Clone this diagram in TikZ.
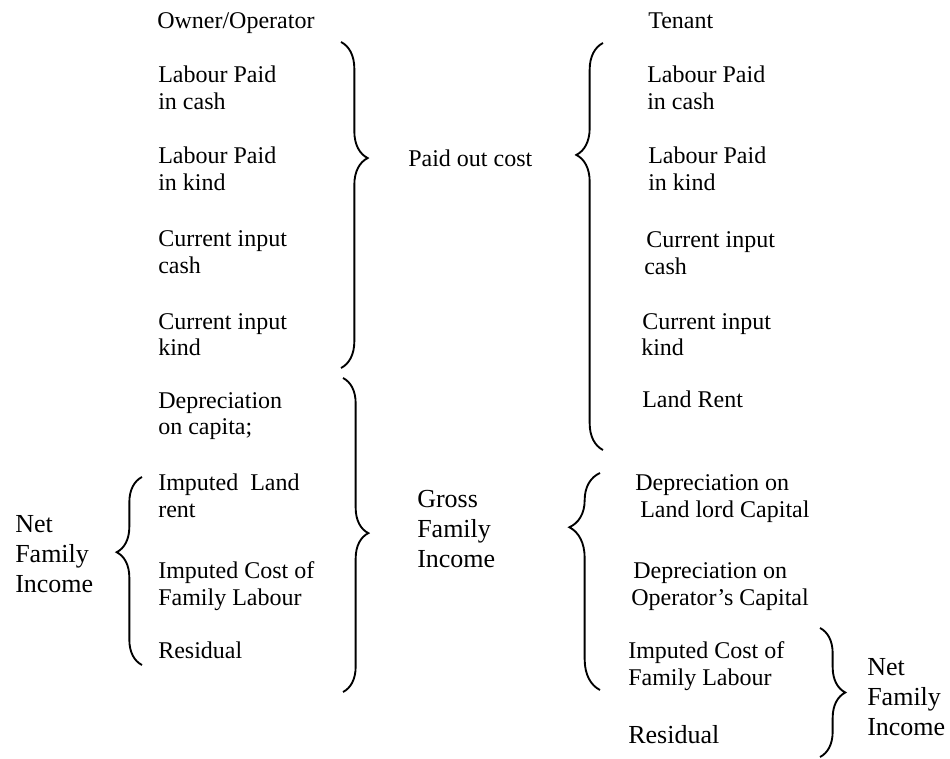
\documentclass[tikz,border=0pt]{standalone}
\usepackage{fontspec}
\setmainfont{Liberation Serif}
\usetikzlibrary{decorations.pathreplacing}
\begin{document}
\begin{tikzpicture}[x=0.75pt,y=-0.75pt,
  txt/.style={anchor=base west,inner sep=0pt,align=left,font=\fontsize{18}{20.25}\selectfont},
  bigtxt/.style={anchor=base west,inner sep=0pt,align=left,font=\fontsize{19.5}{22.5}\selectfont},
  bracket/.style={line width=1.4pt,decorate,decoration={brace,amplitude=#1}},
  bracket/.default=19pt]
\useasboundingbox (0,0) rectangle (950,759);

% owner / operator column (anchors sit on the last line's baseline)
\node[txt] (oo)   at (157,29)  {Owner/Operator};
\node[txt] (o1)   at (158,110) {Labour Paid\\in cash};
\node[txt] (o2)   at (158,191) {Labour Paid\\in kind};
\node[txt] (o3)   at (158,274) {Current input\\cash};
\node[txt] (o4)   at (158,356) {Current input\\kind};
\node[txt] (o5)   at (158,435) {Depreciation\\on capita;};
\node[txt] (o6)   at (158,517) {Imputed\ \ Land\\rent};
\node[txt] (o7)   at (158,605) {Imputed Cost of\\Family Labour};
\node[txt] (o8)   at (158,658) {Residual};
\node[bigtxt] (onet) at (15,592) {Net\\Family\\Income};

% middle labels
\node[txt] (paid)  at (408,167) {Paid out cost};
\node[bigtxt] (gross) at (417,567) {Gross\\Family\\Income};

% tenant column
\node[txt] (tt)   at (648,29)  {Tenant};
\node[txt] (t1)   at (647,110) {Labour Paid\\in cash};
\node[txt] (t2)   at (648,191) {Labour Paid\\in kind};
\node[txt] (t3)   at (644,275) {\hspace*{1.5pt}Current input\\cash};
\node[txt] (t4)   at (641,356) {\hspace*{0.75pt}Current input\\kind};
\node[txt] (t5)   at (642,407) {Land Rent};
\node[txt] (t6)   at (635,517) {Depreciation on\\\hspace*{3.75pt}Land lord Capital};
\node[txt] (t7)   at (631,605) {\hspace*{1.5pt}Depreciation on\\Operator’s Capital};
\node[txt] (t8)   at (628,685) {Imputed Cost of\\Family Labour};
\node[bigtxt] (t9) at (628,743) {Residual};
\node[bigtxt] (tnet) at (867,735) {Net\\Family\\Income};

% brace end points
\coordinate (pa1) at (341,42);  \coordinate (pa2) at (341,368);
\coordinate (pb1) at (603,43);  \coordinate (pb2) at (603,450);
\coordinate (ga1) at (343,378); \coordinate (ga2) at (343,692);
\coordinate (na1) at (142,477); \coordinate (na2) at (142,665);
\coordinate (gb1) at (600,473); \coordinate (gb2) at (600,690);
\coordinate (nb1) at (820,628); \coordinate (nb2) at (820,757);

% braces
\draw[bracket=20pt,decoration={aspect=0.356}] (pa1) -- (pa2);
\draw[bracket=20pt,decoration={mirror,aspect=0.275}] (pb1) -- (pb2);
\draw[bracket=19pt,decoration={aspect=0.494}] (ga1) -- (ga2);
\draw[bracket=19pt,decoration={mirror,aspect=0.40}] (na1) -- (na2);
\draw[bracket=23pt,decoration={mirror,aspect=0.25}] (gb1) -- (gb2);
\draw[bracket=19pt,decoration={aspect=0.50}] (nb1) -- (nb2);
\end{tikzpicture}
\end{document}
